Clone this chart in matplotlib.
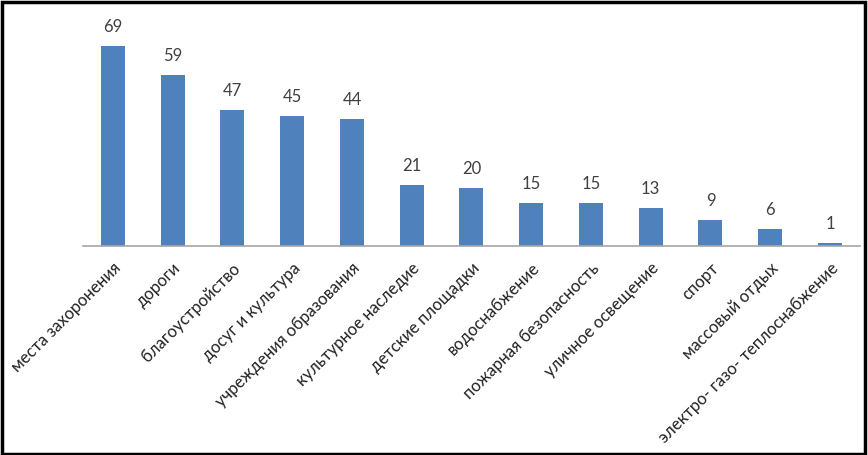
import matplotlib.pyplot as plt
from matplotlib.patches import Rectangle

categories = ["места захоронения", "дороги", "благоустройство", "досуг и культура",
              "учреждения образования", "культурное наследие", "детские площадки",
              "водоснабжение", "пожарная безопасность", "уличное освещение",
              "спорт", "массовый отдых", "электро- газо- теплоснабжение"]
values = [69, 59, 47, 45, 44, 21, 20, 15, 15, 13, 9, 6, 1]

plt.rcParams['font.family'] = ['Lato', 'DejaVu Sans']

fig = plt.figure(figsize=(8.68, 4.55), dpi=100)
ax = fig.add_axes([0.0956, 0.459, 0.895, 0.497])

x = range(len(values))
bars = ax.bar(x, values, width=0.4, color="#4F81BD")
for xi, v in zip(x, values):
    ax.text(xi, v + 3.8, str(v), ha="center", va="bottom", fontsize=12, color="#404040")

ax.set_xlim(-0.5, len(values) - 0.5)
ax.set_ylim(0, 78)
ax.set_xticks(list(x))
ax.set_xticklabels(categories, rotation=45, ha="right", rotation_mode="anchor",
                   fontsize=12, color="#222222")
ax.tick_params(axis="x", length=0, pad=10)
ax.set_yticks([])
for s in ["top", "right", "left"]:
    ax.spines[s].set_visible(False)
ax.spines["bottom"].set_color("#A6A6A6")
ax.spines["bottom"].set_linewidth(1.2)

fig.patches.append(Rectangle((0.002, 0.003), 0.995, 0.993, transform=fig.transFigure,
                             fill=False, edgecolor="black", linewidth=2.5))

fig.savefig("out.png", dpi=100)
